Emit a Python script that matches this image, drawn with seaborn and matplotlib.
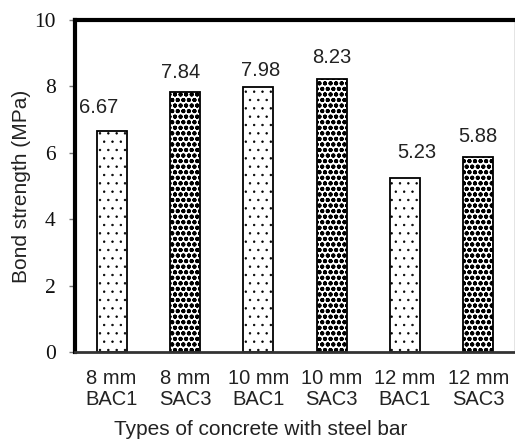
import matplotlib
matplotlib.use("Agg")
import matplotlib.pyplot as plt
import seaborn as sns
import pandas as pd

categories = ["8 mm\nBAC1", "8 mm\nSAC3", "10 mm\nBAC1", "10 mm\nSAC3", "12 mm\nBAC1", "12 mm\nSAC3"]
values = [6.67, 7.84, 7.98, 8.23, 5.23, 5.88]
value_labels = ["6.67", "7.84", "7.98", "8.23", "5.23", "5.88"]
concrete = ["BAC1", "SAC3", "BAC1", "SAC3", "BAC1", "SAC3"]
y_ticks = [0, 2, 4, 6, 8, 10]

# layout-only: nudges (px) for the value labels
label_nudge_x_px = [-13, -4, 2, 0, 12, 0]
label_gap_px = [18, 14, 11, 16, 20, 15]
hatch_for = {"BAC1": "..", "SAC3": "ooo"}
hatch_lw = {"BAC1": 0.5, "SAC3": 1.35}
hatch_col = {"BAC1": "#444444", "SAC3": "black"}

sns.set_theme(style="white")
plt.rcParams["font.family"] = ["Liberation Sans", "DejaVu Sans"]
plt.rcParams["hatch.linewidth"] = 1.2
plt.rcParams["hatch.color"] = "black"

df = pd.DataFrame({"cat": categories, "val": values})

fig = plt.figure(figsize=(5.15, 4.46), dpi=100)
ax = fig.add_axes([75 / 515, (446 - 352) / 446, 440 / 515, 332 / 446])

sns.barplot(data=df, x="cat", y="val", color="white", edgecolor="black",
            linewidth=1.3, width=0.41, saturation=1, ax=ax)

for patch, c in zip(ax.patches, concrete):
    patch.set_facecolor("white")
    patch.set_hatch(hatch_for[c])
    if hasattr(patch, "set_hatch_linewidth"):
        patch.set_hatch_linewidth(hatch_lw[c])
    if hasattr(patch, "set_hatchcolor"):
        patch.set_hatchcolor(hatch_col[c])

ax.set_xlim(-0.5, 5.5)
ax.set_ylim(0, 10)
ax.set_yticks(y_ticks)
ax.set_yticklabels([str(t) for t in y_ticks], fontfamily="Liberation Serif", fontsize=15.5, color="#111111")
ax.tick_params(axis="y", length=4, width=1, color="#777777", left=True, pad=10)
ax.tick_params(axis="x", length=0, pad=12, labelsize=14.5, labelcolor="#222222")
for t in ax.get_xticklabels():
    t.set_linespacing(1.15)

for i, (v, lab) in enumerate(zip(values, value_labels)):
    ax.annotate(lab, xy=(i, v), xytext=(label_nudge_x_px[i] * 0.72, (label_gap_px[i] - 4) * 0.72),
                textcoords="offset points", ha="center", va="bottom",
                fontsize=14.5, color="#222222")

ax.set_xlabel("Types of concrete with steel bar", fontsize=15, color="#222222")
ax.set_ylabel("Bond strength (MPa)", fontsize=15, color="#222222")
ax.xaxis.set_label_coords((261 - 75) / 440, -0.205)
ax.yaxis.set_label_coords(-0.1, 0.5)

for side in ["top", "left"]:
    ax.spines[side].set_linewidth(3)
    ax.spines[side].set_color("black")
ax.spines["bottom"].set_linewidth(2)
ax.spines["bottom"].set_color("#333333")
ax.spines["right"].set_linewidth(1)
ax.spines["right"].set_color("#777777")

fig.savefig("out.png", dpi=100)
